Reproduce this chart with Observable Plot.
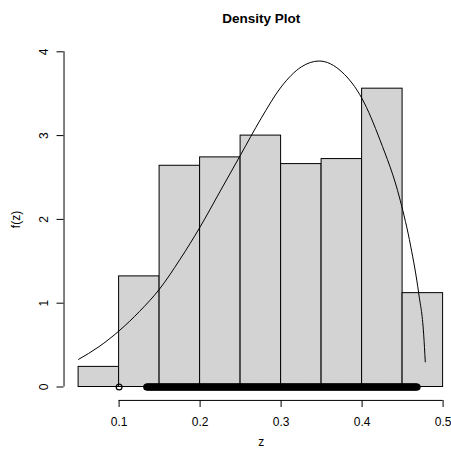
<!DOCTYPE html>
<html><head><meta charset="utf-8">
<script src="https://cdn.jsdelivr.net/npm/d3@7"></script>
<script src="https://cdn.jsdelivr.net/npm/@observablehq/plot@0.6"></script>
<style>html,body{margin:0;padding:0;background:#fff;overflow:hidden}</style>
</head><body><div id="chart"></div>
<script>
const titleText = "Density Plot";
const xLabel = "z";
const yLabel = "f(z)";
const xTicks = [0.1, 0.2, 0.3, 0.4, 0.5];
const yTicks = [0, 1, 2, 3, 4];
const binLo = [0.05, 0.10, 0.15, 0.20, 0.25, 0.30, 0.35, 0.40, 0.45];
const binHi = [0.10, 0.15, 0.20, 0.25, 0.30, 0.35, 0.40, 0.45, 0.50];
const density = [0.24, 1.32, 2.64, 2.74, 3.00, 2.66, 2.72, 3.56, 1.12];
const curveZ = [0.05, 0.075, 0.10, 0.125, 0.15, 0.175, 0.20, 0.225, 0.25, 0.275, 0.30, 0.325, 0.347, 0.375, 0.40, 0.422, 0.447, 0.46, 0.47, 0.476, 0.478];
const curveF = [0.33, 0.48, 0.67, 0.90, 1.17, 1.52, 1.91, 2.34, 2.77, 3.20, 3.58, 3.82, 3.89, 3.76, 3.44, 2.95, 2.23, 1.68, 1.11, 0.63, 0.30];
// sample values (thousandths) drawn at f = 0
const zSample = [100,
134,135,136,137,138,139,140,141,142,143,144,145,146,147,148,149,150,151,152,153,
154,155,156,157,158,159,160,161,162,163,164,165,166,167,168,169,170,171,172,173,
174,175,176,177,178,179,180,181,182,183,184,185,186,187,188,189,190,191,192,193,
194,195,196,197,198,199,200,201,202,203,204,205,206,207,208,209,210,211,212,213,
214,215,216,217,218,219,220,221,222,223,224,225,226,227,228,229,230,231,232,233,
234,235,236,237,238,239,240,241,242,243,244,245,246,247,248,249,250,251,252,253,
254,255,256,257,258,259,260,261,262,263,264,265,266,267,268,269,270,271,272,273,
274,275,276,277,278,279,280,281,282,283,284,285,286,287,288,289,290,291,292,293,
294,295,296,297,298,299,300,301,302,303,304,305,306,307,308,309,310,311,312,313,
314,315,316,317,318,319,320,321,322,323,324,325,326,327,328,329,330,331,332,333,
334,335,336,337,338,339,340,341,342,343,344,345,346,347,348,349,350,351,352,353,
354,355,356,357,358,359,360,361,362,363,364,365,366,367,368,369,370,371,372,373,
374,375,376,377,378,379,380,381,382,383,384,385,386,387,388,389,390,391,392,393,
394,395,396,397,398,399,400,401,402,403,404,405,406,407,408,409,410,411,412,413,
414,415,416,417,418,419,420,421,422,423,424,425,426,427,428,429,430,431,432,433,
434,435,436,437,438,439,440,441,442,443,444,445,446,447,448,449,450,451,452,453,
454,455,456,457,458,459,460,461,462,463,464,465,466,467,468];

const bins = binLo.map((lo, i) => ({x1: lo, x2: binHi[i], y: density[i]}));
const curve = curveZ.map((z, i) => ({z, f: curveF[i]}));
const xLo = binLo[0] - 0.04 * (binHi[binHi.length - 1] - binLo[0]);
const yLo = yTicks[0] - 0.04 * (yTicks[yTicks.length - 1] - yTicks[0]);
const font = '"Liberation Sans", Arial, Helvetica, sans-serif';

const chart = Plot.plot({
  width: 451, height: 450,
  marginTop: 38, marginBottom: 50, marginLeft: 63.5, marginRight: -7,
  style: {fontFamily: font, fontSize: "12px", background: "#fff", color: "#000"},
  x: {domain: [0.1, 0.5], range: [118.6, 442.6]},
  y: {domain: [0, 4], range: [386.5, 51.3]},
  marks: [
    Plot.rect(bins, {x1: "x1", x2: "x2", y1: 0, y2: "y", fill: "#d3d3d3", stroke: "#000", strokeWidth: 1}),
    Plot.line(curve, {x: "z", y: "f", curve: "monotone-x", stroke: "#000", strokeWidth: 1}),
    Plot.dot(zSample, {x: d => d / 1000, y: () => 0, r: 2.9, stroke: "#000", strokeWidth: 1.2, fill: "none"}),
    Plot.axisX(xTicks, {tickSize: 7, tickFormat: () => "", label: null, stroke: "#000"}),
    Plot.axisY(yTicks, {tickSize: 7, tickFormat: () => "", label: null, stroke: "#000"}),
    Plot.ruleY([yLo], {x1: xTicks[0], x2: xTicks[xTicks.length - 1], stroke: "#000"}),
    Plot.ruleX([xLo], {y1: yTicks[0], y2: yTicks[yTicks.length - 1], stroke: "#000"}),
    Plot.text(xTicks, {x: d => d, text: d => String(d), frameAnchor: "bottom", dy: 21.8, lineAnchor: "middle", fontSize: 12}),
    Plot.text(yTicks, {y: d => d, text: d => String(d), frameAnchor: "left", dx: -20.3, rotate: -90, textAnchor: "middle", lineAnchor: "middle", fontSize: 12}),
    Plot.text([yLabel], {text: d => d, frameAnchor: "left", dx: -48.2, rotate: -90, textAnchor: "middle", lineAnchor: "middle", fontSize: 12}),
    Plot.text([xLabel], {text: d => d, frameAnchor: "bottom", dy: 42, lineAnchor: "middle", fontSize: 12}),
    Plot.text([titleText], {text: d => d, frameAnchor: "top", dy: -19.5, lineAnchor: "middle", fontSize: 13.5, fontWeight: "bold"})
  ]
});
document.getElementById("chart").appendChild(chart);
</script>
</body></html>
